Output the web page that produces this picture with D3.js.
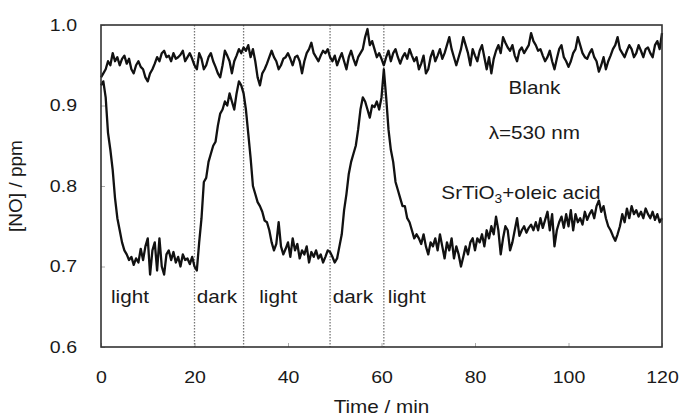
<!DOCTYPE html>
<html>
<head>
<meta charset="utf-8">
<script src="https://cdn.jsdelivr.net/npm/d3@7"></script>
<style>
  body { margin: 0; background: #fff; }
  text { font-family: "Liberation Sans", Arial, sans-serif; fill: #1a1a1a; }
</style>
</head>
<body>
<div id="chart"></div>
<script>
// time axis: one reading every 0.5 min, 0 .. 120
var timeStep = 0.5;

// [NO] for the blank run (ppm)
var blankNO = [
  0.935,0.94,0.945,0.955,0.95,0.965,0.955,0.96,0.95,0.958,0.962,0.952,0.958,0.945,0.94,0.95,0.955,0.948,0.945,0.935,
  0.93,0.94,0.945,0.952,0.96,0.955,0.965,0.968,0.96,0.962,0.955,0.965,0.958,0.96,0.963,0.968,0.955,0.96,0.965,0.958,
  0.95,0.945,0.965,0.958,0.945,0.95,0.96,0.965,0.955,0.948,0.94,0.935,0.95,0.968,0.962,0.955,0.94,0.955,0.962,0.97,
  0.965,0.972,0.968,0.975,0.96,0.97,0.955,0.935,0.925,0.94,0.945,0.952,0.96,0.968,0.96,0.955,0.945,0.95,0.958,0.96,
  0.965,0.958,0.95,0.96,0.962,0.955,0.94,0.955,0.965,0.97,0.978,0.965,0.96,0.955,0.962,0.968,0.965,0.97,0.96,0.955,
  0.962,0.95,0.958,0.965,0.955,0.945,0.96,0.968,0.958,0.95,0.96,0.965,0.97,0.985,0.995,0.975,0.98,0.97,0.96,0.965,
  0.958,0.95,0.96,0.968,0.955,0.965,0.97,0.96,0.952,0.96,0.965,0.958,0.97,0.962,0.955,0.96,0.945,0.952,0.962,0.94,
  0.945,0.96,0.968,0.955,0.962,0.97,0.958,0.965,0.975,0.985,0.97,0.96,0.95,0.96,0.97,0.985,0.975,0.965,0.95,0.97,
  0.962,0.955,0.968,0.975,0.96,0.945,0.96,0.94,0.958,0.968,0.975,0.965,0.985,0.978,0.972,0.968,0.975,0.962,0.955,0.968,
  0.972,0.965,0.97,0.975,0.99,0.98,0.975,0.968,0.97,0.962,0.955,0.96,0.968,0.955,0.945,0.958,0.97,0.975,0.96,0.955,
  0.948,0.955,0.965,0.97,0.985,0.975,0.965,0.96,0.958,0.965,0.97,0.96,0.955,0.942,0.95,0.96,0.945,0.955,0.962,0.97,
  0.975,0.985,0.97,0.965,0.96,0.968,0.975,0.97,0.96,0.965,0.975,0.968,0.96,0.97,0.972,0.965,0.96,0.975,0.98,0.97,
  0.99
];

// [NO] with SrTiO3 + oleic acid (ppm)
var sampleNO = [
  0.925,0.93,0.91,0.866,0.845,0.82,0.785,0.76,0.745,0.73,0.72,0.715,0.708,0.712,0.702,0.71,0.705,0.722,0.708,0.725,
  0.735,0.69,0.72,0.73,0.695,0.735,0.70,0.69,0.715,0.72,0.708,0.718,0.705,0.712,0.70,0.715,0.708,0.71,0.703,0.712,
  0.70,0.695,0.73,0.76,0.805,0.81,0.83,0.84,0.85,0.855,0.875,0.89,0.895,0.905,0.90,0.915,0.905,0.895,0.915,0.93,
  0.925,0.915,0.895,0.865,0.835,0.80,0.79,0.78,0.775,0.768,0.757,0.755,0.745,0.73,0.72,0.728,0.755,0.725,0.715,0.722,
  0.73,0.712,0.735,0.72,0.728,0.71,0.72,0.715,0.725,0.705,0.718,0.712,0.72,0.71,0.715,0.705,0.712,0.72,0.718,0.712,
  0.705,0.71,0.725,0.74,0.77,0.79,0.815,0.83,0.84,0.85,0.87,0.895,0.91,0.905,0.895,0.885,0.90,0.898,0.905,0.895,
  0.91,0.945,0.91,0.87,0.845,0.83,0.805,0.795,0.785,0.775,0.775,0.76,0.755,0.745,0.735,0.74,0.735,0.728,0.74,0.725,
  0.715,0.73,0.725,0.735,0.72,0.74,0.725,0.71,0.73,0.72,0.735,0.71,0.725,0.715,0.70,0.712,0.725,0.715,0.73,0.735,
  0.72,0.735,0.73,0.74,0.725,0.745,0.735,0.75,0.74,0.762,0.745,0.715,0.735,0.75,0.745,0.72,0.73,0.745,0.76,0.738,
  0.745,0.75,0.742,0.748,0.752,0.745,0.755,0.745,0.76,0.748,0.758,0.768,0.745,0.765,0.725,0.745,0.755,0.762,0.748,0.765,
  0.75,0.77,0.745,0.765,0.755,0.76,0.752,0.768,0.758,0.765,0.77,0.76,0.775,0.782,0.768,0.775,0.76,0.75,0.745,0.738,
  0.732,0.74,0.75,0.765,0.755,0.772,0.76,0.775,0.765,0.77,0.762,0.768,0.76,0.772,0.765,0.76,0.768,0.758,0.765,0.755,
  0.76
];

// light on/off switching times (min)
var switchTimes = [20, 30.5, 49, 60.5];
var periodLabels = ["light", "dark", "light", "dark", "light"];
var periodLabelTimes = [6.2, 24.8, 37.9, 53.9, 65.4];

var xTicks = [0, 20, 40, 60, 80, 100, 120];
var yTicks = [0.6, 0.7, 0.8, 0.9, 1.0];

var width = 681, height = 417;
var margin = {top: 25, right: 19, bottom: 70, left: 101};
var stretch = 1.15; // the glyphs in the figure are a bit wide

var svg = d3.select("#chart")
  .append("svg")
  .attr("width", width)
  .attr("height", height);

var x = d3.scaleLinear().domain([0, 120]).range([margin.left, width - margin.right]);
var y = d3.scaleLinear().domain([0.6, 1.0]).range([height - margin.bottom, margin.top]);

// axes with small inward ticks
var xAxis = svg.append("g")
  .attr("transform", "translate(0," + (height - margin.bottom) + ")")
  .call(d3.axisBottom(x).tickValues(xTicks).tickFormat(d3.format("d"))
    .tickSizeInner(-4).tickSizeOuter(0).tickPadding(24));
xAxis.select(".domain").remove();
xAxis.selectAll(".tick line").attr("stroke", "#aaa");
xAxis.selectAll(".tick text")
  .attr("font-size", "17px")
  .attr("transform", "scale(" + stretch + ",1)");

var yAxis = svg.append("g")
  .attr("transform", "translate(" + margin.left + ",0)")
  .call(d3.axisLeft(y).tickValues(yTicks).tickFormat(d3.format(".1f"))
    .tickSizeInner(-4).tickSizeOuter(0).tickPadding(24));
yAxis.select(".domain").remove();
yAxis.selectAll(".tick line").attr("stroke", "#aaa");
yAxis.selectAll(".tick text")
  .attr("font-size", "17px")
  .attr("x", -24 / stretch)
  .attr("transform", "scale(" + stretch + ",1)");

// dotted lines at the light switches
svg.append("g")
  .selectAll("line")
  .data(switchTimes)
  .enter()
  .append("line")
  .attr("x1", d => x(d))
  .attr("x2", d => x(d))
  .attr("y1", y(1.0))
  .attr("y2", y(0.6))
  .attr("stroke", "#777")
  .attr("stroke-width", 1.3)
  .attr("stroke-dasharray", "1.5,1.5");

var line = d3.line()
  .x((d, i) => x(i * timeStep))
  .y(d => y(d));

[blankNO, sampleNO].forEach(function(series) {
  svg.append("path")
    .datum(series)
    .attr("d", line)
    .attr("fill", "none")
    .attr("stroke", "#111")
    .attr("stroke-width", 2.3)
    .attr("stroke-linejoin", "round");
});

// plot frame
svg.append("rect")
  .attr("x", x(0))
  .attr("y", y(1.0))
  .attr("width", x(120) - x(0))
  .attr("height", y(0.6) - y(1.0))
  .attr("fill", "none")
  .attr("stroke", "#333")
  .attr("stroke-width", 1.6);

// helper for horizontally stretched text
function label(px, py, str, size, anchor) {
  return svg.append("text")
    .attr("transform", "translate(" + px + "," + py + ") scale(" + stretch + ",1)")
    .attr("text-anchor", anchor || "start")
    .attr("font-size", size + "px")
    .text(str);
}

svg.append("g")
  .selectAll("text")
  .data(periodLabels)
  .enter()
  .append("text")
  .attr("transform", (d, i) => "translate(" + x(periodLabelTimes[i]) + "," + y(0.655) + ") scale(" + stretch + ",1)")
  .attr("text-anchor", "middle")
  .attr("font-size", "18px")
  .text(d => d);

label(x(92.7), y(0.914), "Blank", 18, "middle");
label(x(92.7), y(0.859), "\u03bb=530 nm", 18, "middle");

var sr = label(x(72.8), y(0.784), "", 18, "start");
sr.append("tspan").text("SrTiO");
sr.append("tspan").attr("font-size", "12px").attr("dy", 4).text("3");
sr.append("tspan").attr("dy", -4).text("+oleic acid");

// axis titles
label((x(0) + x(120)) / 2, 413, "Time / min", 18, "middle");

svg.append("text")
  .attr("transform", "translate(22," + ((y(0.6) + y(1.0)) / 2) + ") rotate(-90)")
  .attr("text-anchor", "middle")
  .attr("font-size", "19px")
  .text("[NO] / ppm");
</script>
</body>
</html>
